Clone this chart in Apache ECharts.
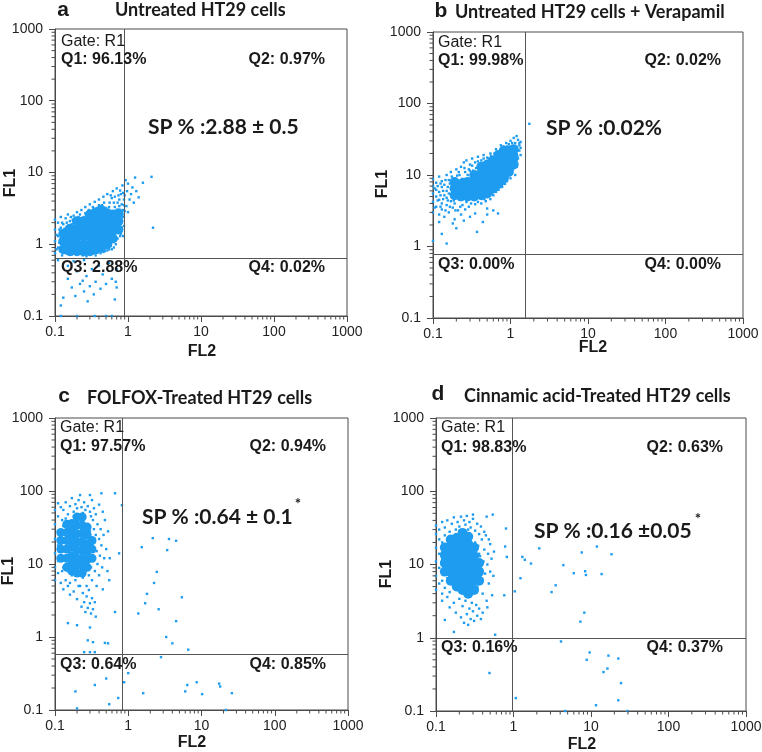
<!DOCTYPE html>
<html><head><meta charset="utf-8">
<script src="https://cdn.jsdelivr.net/npm/echarts@6.0.0/dist/echarts.min.js"></script>
<style>html,body{margin:0;padding:0;background:#fff}#c{width:762px;height:752px}</style>
</head><body><div id="c"></div>
<script>
// ---------- data ----------
const tickLabels = ['0.1','1','10','100','1000'];
const minorTicks = [0.2,0.3,0.4,0.5,0.6,0.7,0.8,0.9,2,3,4,5,6,7,8,9,20,30,40,50,60,70,80,90,200,300,400,500,600,700,800,900];
const letters = ['a','b','c','d'];
const titles = ['Untreated HT29 cells','Untreated HT29 cells + Verapamil','FOLFOX-Treated HT29 cells','Cinnamic acid-Treated HT29 cells'];
const gateLabel = ['Gate: R1','Gate: R1','Gate: R1','Gate: R1'];
const q1 = ['Q1: 96.13%','Q1: 99.98%','Q1: 97.57%','Q1: 98.83%'];
const q2 = ['Q2: 0.97%','Q2: 0.02%','Q2: 0.94%','Q2: 0.63%'];
const q3 = ['Q3: 2.88%','Q3: 0.00%','Q3: 0.64%','Q3: 0.16%'];
const q4 = ['Q4: 0.02%','Q4: 0.00%','Q4: 0.85%','Q4: 0.37%'];
const spText = ['SP % :2.88 \u00b1 0.5','SP % :0.02%','SP % :0.64 \u00b1 0.1','SP % :0.16 \u00b10.05'];
const spStar = ['','','*','*'];
const gateX = [0.9, 1.55, 0.84, 0.95];
const gateY = [0.64, 0.78, 0.58, 1.0];

const aCore = [[0.13,0.85],[0.13,1.1],[0.13,1.4],[0.16,0.8],[0.16,1.0],[0.16,1.3],[0.16,1.65],[0.2,0.8],[0.2,1.0],[0.2,1.3],[0.2,1.65],[0.2,2.1],[0.245,0.8],[0.245,1.0],[0.245,1.3],[0.245,1.65],[0.245,2.1],[0.3,0.8],[0.3,1.0],[0.3,1.3],[0.3,1.65],[0.3,2.1],[0.3,2.6],[0.36,0.85],[0.36,1.08],[0.36,1.4],[0.36,1.75],[0.36,2.2],[0.36,2.8],[0.43,0.9],[0.43,1.15],[0.43,1.45],[0.43,1.85],[0.43,2.35],[0.43,3.0],[0.52,1.0],[0.52,1.3],[0.52,1.65],[0.52,2.1],[0.52,2.7],[0.62,1.2],[0.62,1.55],[0.62,2.0],[0.62,2.6],[0.74,1.6],[0.74,2.1],[0.74,2.7]];
const aDots = [[0.10,0.75],[0.10,1.1],[0.10,1.6],[0.10,2.2],[0.11,0.9],[0.11,1.3],[0.11,2.0],[0.12,0.8],[0.12,1.2],[0.12,1.7],[0.12,2.4],[0.13,0.95],[0.13,1.9],[0.14,0.75],[0.14,2.3],[0.14,1.25],[0.15,0.85],[0.15,1.5],[0.15,2.6],[0.16,2.1],[0.17,0.72],[0.17,1.9],[0.18,1.15],[0.18,2.5],[0.18,0.9],[0.19,1.45],[0.19,2.0],[0.2,0.72],[0.2,2.8],
[0.105,0.85],[0.105,1.35],[0.115,1.05],[0.115,1.6],[0.125,0.7],[0.125,2.0],[0.135,1.2],[0.135,1.65],[0.145,0.95],[0.145,2.0],[0.155,1.15],[0.155,1.8],[0.165,0.9],[0.165,2.4],[0.175,1.3],[0.175,2.2],[0.185,0.75],[0.185,1.7],[0.195,2.3],[0.21,2.4],[0.23,2.3],[0.26,2.7],[0.29,3.0],[0.33,3.3],[0.4,3.5],[0.47,3.8],[0.55,3.3],[0.58,4.8],[0.64,3.8],[0.66,4.6],[0.7,2.6],[0.72,3.8],[0.76,4.2],[0.78,2.6],[0.8,5.0],[0.82,1.7],[0.84,2.6],[0.86,5.2],[0.88,3.5],[0.7,1.5],[0.78,1.3],[0.6,0.85],[0.52,0.82],[0.46,0.78],[0.38,0.76],[0.33,0.74],[0.27,0.73],[0.22,0.75],
[0.22,2.6],[0.23,3.0],[0.24,0.7],[0.25,2.4],[0.26,3.3],[0.27,0.68],[0.28,2.7],[0.3,3.6],[0.31,0.72],[0.33,2.9],[0.35,3.9],[0.36,0.7],[0.38,3.2],[0.4,4.2],[0.42,0.75],[0.44,3.5],[0.46,4.6],[0.48,0.8],[0.5,3.2],[0.52,5.0],[0.55,0.85],[0.56,3.8],[0.6,4.4],[0.62,5.5],[0.64,0.9],[0.66,3.3],[0.68,1.0],[0.7,6.0],[0.72,1.2],[0.74,4.8],[0.76,3.4],[0.78,5.6],[0.8,1.4],[0.82,3.6],[0.84,6.6],[0.86,2.4],[0.88,4.2],[0.58,0.95],[0.68,2.0],[0.8,2.0],[0.85,3.0],[0.9,4.8],[0.9,2.9],[0.88,1.8],[0.86,1.3],
[0.95,3.4],[0.97,5.5],[1.0,7.0],[1.05,4.2],[1.1,5.0],[1.15,6.2],[1.2,3.8],[1.3,5.5],[1.4,4.5],[0.93,7.8],[1.0,2.8],[2.1,8.7],[2.2,1.7],[1.6,7.2],[1.25,8.5],
[0.12,0.14],[0.13,0.18],[0.15,0.33],[0.17,0.25],[0.19,0.19],[0.2,0.42],[0.22,0.28],[0.24,0.31],[0.25,0.22],[0.27,0.36],[0.28,0.16],[0.3,0.26],[0.32,0.45],[0.34,0.2],[0.36,0.3],[0.4,0.5],[0.42,0.24],[0.45,0.38],[0.5,0.28],[0.55,0.55],[0.6,0.33],[0.66,0.17],[0.68,0.3],[0.7,0.45],[0.15,0.5],[0.11,0.6],[0.18,0.58],[0.25,0.6],[0.12,0.1],[0.2,0.1],[0.35,0.1],[0.5,0.1],[0.6,0.1],[0.7,0.25]];

const bCore = [[0.19,5.2],[0.19,6.5],[0.19,8],[0.23,5],[0.23,6],[0.23,7.5],[0.28,5],[0.28,6.3],[0.28,8],[0.34,5],[0.34,6.3],[0.34,8],[0.34,10],[0.42,5.2],[0.42,6.5],[0.42,8.2],[0.42,10.5],[0.42,13],[0.5,5.5],[0.5,7],[0.5,8.8],[0.5,11],[0.5,14],[0.6,6.5],[0.6,8.2],[0.6,10.5],[0.6,13],[0.6,16],[0.7,7.5],[0.7,9.5],[0.7,12],[0.7,15],[0.7,19],[0.82,9],[0.82,11.5],[0.82,14.5],[0.82,18],[0.82,22],[0.95,11],[0.95,14],[0.95,17.5],[0.95,22],[1.1,14],[1.1,18],[1.1,23]];
const bDots = [[0.1,3],[0.1,4.2],[0.1,5.5],[0.1,7],[0.1,8.8],[0.11,3.6],[0.11,5],[0.11,6.2],[0.11,7.8],[0.12,2.8],[0.12,4.5],[0.12,5.8],[0.12,9.5],[0.13,3.3],[0.13,4],[0.13,6.8],[0.13,8.2],[0.14,2.6],[0.14,5.2],[0.14,7.3],[0.15,3.8],[0.15,4.8],[0.15,6],[0.15,10],[0.16,3],[0.16,5.5],[0.16,8.5],[0.17,4.3],[0.17,6.5],[0.17,11],[0.18,3.5],[0.18,5],[0.18,7.5],[0.19,2.4],[0.19,4],[0.19,9],[0.2,5.8],[0.2,12],[0.21,3.2],[0.21,7],[0.22,4.5],[0.22,10],[0.23,2.8],[0.23,13],[0.24,6.2],[0.24,3.8],[0.25,8.8],[0.25,15],[0.26,3.3],[0.26,11],[0.27,4.2],[0.27,16],[0.29,3.6],[0.29,12],[0.3,14],[0.31,4],[0.32,17],[0.33,11.5],[0.35,3.9],[0.35,15],[0.38,4.2],[0.38,18],[0.4,13.5],[0.42,4],[0.45,17],[0.45,19],[0.48,4.3],[0.5,3.4],[0.52,17],[0.55,4.6],[0.55,20],[0.6,5.2],[0.62,20],[0.65,5.8],[0.65,23],[0.7,6.2],[0.72,21],[0.75,26],[0.78,6.8],[0.8,25],[0.85,7.5],[0.88,28],[0.9,8.2],[0.95,27],[1.0,9],[1.0,30],[1.05,11],[1.1,33],[1.15,10],[1.15,28],[1.2,13],[1.2,35],[1.25,17],[1.25,31],[1.3,22],[1.3,26],[1.35,19],[1.35,29],[1.05,25],[1.2,20],
[0.105,3.5],[0.105,6.5],[0.115,4.4],[0.115,7],[0.125,3.6],[0.125,5.2],[0.125,7.6],[0.135,4.6],[0.135,6],[0.145,3.2],[0.145,8.5],[0.155,4.4],[0.155,6.8],[0.165,3.6],[0.165,7.6],[0.175,5.2],[0.175,9.5],[0.185,4.4],[0.185,6.2],[0.195,3.2],[0.195,7.2],[0.205,4.8],[0.205,9.8],[0.215,5.5],[0.215,11],[0.225,3.6],[0.235,8.8],[0.245,5],[0.255,12.5],[0.265,6.8],[0.28,10],[0.3,11.5],[0.32,13.5],[0.36,12.5],[0.38,15.5],[0.42,16],[0.46,4.6],[0.5,17.5],[0.56,18.5],[0.58,5.5],[0.66,21],[0.68,6.5],[0.76,23],[0.8,7.6],[0.9,25],[0.92,9.5],[1.05,28],[1.08,12],[1.15,24],[1.25,22],[1.3,28],[1.2,16],[1.35,24],
[0.1,1.2],[0.15,1.1],[0.13,1.5],[0.12,2.2],[0.18,2.1],[0.25,2.3],[0.3,2.6],[0.37,1.6],[0.44,2.2],[0.5,2.8],[0.69,2.9],[0.6,3.2],[0.35,2.9],[0.2,1.8],[1.75,52]];

const cCore = [[0.12,12],[0.12,16],[0.12,21],[0.12,27],[0.145,9],[0.145,12],[0.145,16],[0.145,21],[0.145,27],[0.145,35],[0.17,8],[0.17,10],[0.17,13],[0.17,17],[0.17,22],[0.17,28],[0.17,36],[0.2,7.5],[0.2,9.5],[0.2,12],[0.2,15.5],[0.2,20],[0.2,26],[0.2,34],[0.2,44],[0.235,7.5],[0.235,9.5],[0.235,12],[0.235,15.5],[0.235,20],[0.235,26],[0.235,34],[0.235,44],[0.275,9],[0.275,11.5],[0.275,15],[0.275,19],[0.275,25],[0.275,32],[0.32,12],[0.32,16],[0.32,21]];
const cDots = [[0.1,6],[0.1,9],[0.1,14],[0.1,22],[0.1,35],[0.1,55],[0.11,7.5],[0.11,11],[0.11,18],[0.11,28],[0.11,45],[0.11,68],[0.12,5.5],[0.12,60],[0.125,8],[0.125,40],
[0.13,55],[0.14,70],[0.15,48],[0.16,62],[0.17,80],[0.18,52],[0.19,66],[0.2,58],[0.21,75],[0.22,88],[0.23,60],[0.24,50],[0.25,70],[0.26,55],[0.28,62],[0.3,52],[0.32,75],[0.34,58],[0.36,48],[0.4,65],[0.43,93],[0.3,88],
[0.33,40],[0.34,30],[0.34,12],[0.35,20],[0.35,8],[0.36,25],[0.37,15],[0.37,5],[0.38,35],[0.38,10],[0.4,22],[0.4,7],[0.41,13],[0.42,30],[0.43,18],[0.44,9],[0.45,4.5],[0.46,25],[0.47,12],[0.48,40],[0.5,16],[0.52,8],[0.53,28],[0.55,6],[0.56,12],[0.45,52],
[0.13,4.5],[0.15,5],[0.16,3.8],[0.18,4.2],[0.2,3.3],[0.21,5],[0.23,2.6],[0.24,4],[0.25,3],[0.26,2.2],[0.27,3.6],[0.28,2.5],[0.29,4.4],[0.3,2.9],[0.31,2.1],[0.32,3.4],[0.33,2.4],[0.35,3],[0.36,1.9],
[0.12,13],[0.12,25],[0.13,9],[0.13,17],[0.13,33],[0.14,6],[0.14,12],[0.14,22],[0.14,42],[0.15,8],[0.15,15],[0.15,30],[0.16,5.5],[0.16,10],[0.16,20],[0.16,38],[0.17,7],[0.17,13],[0.17,26],[0.18,45],[0.18,9],[0.18,17],[0.19,6],[0.19,33],[0.2,12],[0.2,24],[0.21,7.5],[0.21,40],[0.22,15],[0.22,5],[0.23,9.5],[0.23,30],[0.24,19],[0.24,6.5],[0.25,12],[0.25,42],[0.26,8],[0.26,25],[0.27,15],[0.27,5],[0.28,10],[0.28,35],[0.29,20],[0.29,7],[0.3,13],[0.3,28],[0.31,9],[0.31,45],[0.32,18],[0.32,6],
[0.15,1.55],[0.2,1.45],[0.3,1.35],[0.33,0.85],[0.28,0.9],[0.48,0.83],[0.53,0.82],[0.66,2.2],[0.25,0.62],[0.3,0.62],[0.35,0.62],[0.66,93],[0.82,64],[0.75,14],
[1.53,17],[2.16,22.6],[3.6,22],[4.5,20.8],[3.4,15.5],[2.45,7.8],[2.25,5.5],[1.8,3.9],[1.37,2.1],[1.7,2.9],[2.6,2.4],[5.4,3.5],[4.5,1.65],[3.3,1.0],[4.0,0.82],[6.6,0.67],[2.8,0.53],
[0.19,0.18],[0.2,0.105],[0.35,0.22],[0.5,0.27],[0.55,0.12],[0.73,0.146],[0.88,0.24],[1.0,0.32],[1.6,0.17],[6.0,0.18],[6.4,0.22],[8.6,0.24],[10.2,0.165],[17.4,0.23],[18,0.21],[26,0.17],[21.5,0.1]];

const dCore = [[0.13,8],[0.13,10.5],[0.13,13.5],[0.13,17],[0.155,6],[0.155,7.8],[0.155,10],[0.155,13],[0.155,17],[0.155,22],[0.185,5],[0.185,6.5],[0.185,8.5],[0.185,11],[0.185,14],[0.185,18],[0.185,23],[0.22,4.5],[0.22,6],[0.22,7.8],[0.22,10],[0.22,13],[0.22,17],[0.22,22],[0.22,27],[0.26,4],[0.26,5.3],[0.26,7],[0.26,9],[0.26,11.5],[0.26,15],[0.26,19],[0.26,24],[0.31,4.5],[0.31,6],[0.31,7.8],[0.31,10],[0.31,13],[0.31,17],[0.36,6],[0.36,8],[0.36,10.5]];
const dDots = [[0.1,4.5],[0.1,7],[0.1,11],[0.1,17],[0.1,26],[0.1,34],[0.11,5.5],[0.11,9],[0.11,14],[0.11,22],[0.11,30],[0.12,4],[0.12,38],
[0.13,32],[0.14,40],[0.15,28],[0.16,36],[0.17,44],[0.18,30],[0.19,38],[0.2,33],[0.21,45],[0.22,28],[0.23,40],[0.24,35],[0.25,46],[0.26,30],[0.27,38],[0.28,32],[0.3,42],[0.32,29],[0.34,36],[0.36,26],[0.38,33],[0.42,28],[0.45,45],[0.48,22],[0.3,48],
[0.35,18],[0.36,9],[0.37,13],[0.38,6],[0.39,22],[0.4,4],[0.41,11],[0.42,16],[0.43,7.5],[0.44,25],[0.45,3.2],[0.46,10],[0.47,14],[0.48,5.5],[0.5,19],[0.5,8],[0.52,12],[0.53,3.8],[0.55,7],[0.56,15],[0.46,2.6],
[0.12,3.2],[0.14,3.6],[0.15,2.6],[0.17,3],[0.18,2.2],[0.2,3.4],[0.21,1.9],[0.22,2.7],[0.23,1.6],[0.24,3.2],[0.25,2.1],[0.26,1.5],[0.27,2.5],[0.28,1.8],[0.29,3],[0.3,2.3],[0.31,1.7],[0.33,2.8],[0.34,2],[0.36,2.5],[0.38,1.8],[0.4,2.2],
[0.12,6],[0.12,12],[0.12,20],[0.13,4.8],[0.13,25],[0.14,6.5],[0.14,19],[0.15,4.2],[0.15,23],[0.16,5.5],[0.16,17],[0.17,21],[0.18,4.5],[0.18,26],[0.19,15],[0.2,20],[0.21,4.8],[0.22,24],[0.24,4.3],[0.25,21],[0.27,17],[0.29,24],[0.3,15],[0.32,20],[0.33,11],[0.34,5],[0.35,8],[0.36,14],
[0.17,1.2],[0.13,1.75],[0.78,17.6],[0.82,12.7],[0.76,3.8],[0.58,1.1],[0.54,48],[0.8,31],
[1.04,4.3],[1.3,12.7],[1.4,11.6],[1.23,6.5],[1.68,10.3],[2.15,16.6],[3.1,4.2],[3.5,5.2],[4.4,9.8],[6.0,7.6],[7.6,14.6],[8.4,8.1],[8.6,7.2],[11.9,17.6],[13.7,7.4],[18.4,13.8],[7.3,1.66],[8.2,2.2],
[0.49,0.33],[1.07,0.15],[4.1,0.89],[4.65,0.1],[8.8,0.5],[9.6,0.63],[14.5,0.34],[16.3,0.38],[16.8,0.57],[22.5,0.52],[22.5,0.14],[24.4,0.24],[29.6,0.1],[11.6,0.12]];

// ---------- layout / style ----------
const cores = [aCore, bCore, cCore, dCore];
const dots = [aDots, bDots, cDots, dDots];
const coreSize = [10, 10, 9, 10];
const BLUE = '#1e9cf0';
const AX = '#4a4a4a';
const TXT = '#1a1a1a';
const gridRects = [
  {left:55, top:29, width:292, height:287},
  {left:433, top:32, width:310, height:286},
  {left:55, top:418, width:293, height:292},
  {left:436, top:418, width:310, height:293}
];
const txtPos = [
  {letter:[63,10], title:[115,10], fl1:[11,183], fl2:[202,352], gate:[61,42], q1:[61,60], q2:[325,60], q3:[61,268], q4:[325,268], sp:[148,127], star:[0,0]},
  {letter:[441,11], title:[455,12], fl1:[383,184], fl2:[593,348], gate:[438,43], q1:[438,61], q2:[721,61], q3:[438,265], q4:[721,265], sp:[546,128], star:[0,0]},
  {letter:[64,396], title:[87,398], fl1:[9,571], fl2:[192,743], gate:[60,428], q1:[60,447], q2:[326,447], q3:[60,665], q4:[326,665], sp:[142,517], star:[298,504]},
  {letter:[438,394], title:[464,396], fl1:[387,574], fl2:[582,745], gate:[441,428], q1:[441,448], q2:[723,448], q3:[441,648], q4:[723,648], sp:[534,531], star:[698,519]}
];

const labelFmt = v => tickLabels[Math.round(Math.log10(v)) + 1];
const grid = [], xAxis = [], yAxis = [], series = [], graphic = [];

function txt(pos, text, font, align, extra) {
  return Object.assign({type:'text', x:pos[0], y:pos[1], silent:true, z:100,
    style:{text:text, font:font, fill:TXT, textAlign:align||'left', textVerticalAlign:'middle', align:align||'left', verticalAlign:'middle'}}, extra||{});
}

for (let i = 0; i < 4; i++) {
  grid.push(Object.assign({show:true, borderColor:AX, borderWidth:1, backgroundColor:'#fff', containLabel:false, outerBoundsMode:'none'}, gridRects[i]));
  const common = {
    type:'log', logBase:10, min:0.1, max:1000, gridIndex:i,
    axisLine:{show:true, lineStyle:{color:AX, width:1}},
    axisTick:{show:true, length:6, lineStyle:{color:AX}},
    splitLine:{show:false}, minorTick:{show:false}, minorSplitLine:{show:false}
  };
  xAxis.push(Object.assign({}, common, {
    axisLabel:{margin:9, fontSize:14, fontFamily:'Liberation Sans', color:'#222', formatter:labelFmt, showMinLabel:true, showMaxLabel:true, overflow:'none', width:60}
  }));
  yAxis.push(Object.assign({}, common, {
    axisLabel:{margin:12, fontSize:14, fontFamily:'Liberation Sans', color:'#222', formatter:labelFmt, showMinLabel:true, showMaxLabel:true}
  }));
  series.push({type:'scatter', xAxisIndex:i, yAxisIndex:i, data:cores[i], symbol:'circle', symbolSize:coreSize[i], itemStyle:{color:BLUE, opacity:1}, silent:true, z:3});
  series.push({type:'scatter', xAxisIndex:i, yAxisIndex:i, data:dots[i], symbol:'rect', symbolSize:2.4, itemStyle:{color:BLUE, opacity:1}, silent:true, z:3,
    markLine:{silent:true, symbol:'none', animation:false, label:{show:false}, lineStyle:{color:'#555', width:1, type:'solid'},
      data:[{xAxis:gateX[i]}, {yAxis:gateY[i]}]}});
  series.push({type:'custom', xAxisIndex:i, yAxisIndex:i, clip:false, silent:true, z:4,
    data:minorTicks.map(v => [v, 0.1]),
    renderItem:(p, api) => { const c = api.coord([api.value(0), api.value(1)]);
      return {type:'line', shape:{x1:c[0], y1:c[1], x2:c[0], y2:c[1] + 3.5}, style:{stroke:AX, lineWidth:1}}; }});
  series.push({type:'custom', xAxisIndex:i, yAxisIndex:i, clip:false, silent:true, z:4,
    data:minorTicks.map(v => [0.1, v]),
    renderItem:(p, api) => { const c = api.coord([api.value(0), api.value(1)]);
      return {type:'line', shape:{x1:c[0] - 3.5, y1:c[1], x2:c[0], y2:c[1]}, style:{stroke:AX, lineWidth:1}}; }});

  const P = txtPos[i];
  graphic.push(txt(P.letter, letters[i], 'bold 21px "Liberation Sans"', 'center'));
  graphic.push(txt(P.title, titles[i], 'bold 18px Lato', 'left'));
  graphic.push(txt(P.fl1, 'FL1', 'bold 16px "Liberation Sans"', 'center', {rotation:Math.PI/2}));
  graphic.push(txt(P.fl2, 'FL2', 'bold 16px "Liberation Sans"', 'center'));
  graphic.push(txt(P.gate, gateLabel[i], '16px "Liberation Sans"', 'left'));
  graphic.push(txt(P.q1, q1[i], 'bold 16px "Liberation Sans"', 'left'));
  graphic.push(txt(P.q2, q2[i], 'bold 16px "Liberation Sans"', 'right'));
  graphic.push(txt(P.q3, q3[i], 'bold 16px "Liberation Sans"', 'left'));
  graphic.push(txt(P.q4, q4[i], 'bold 16px "Liberation Sans"', 'right'));
  graphic.push(txt(P.sp, spText[i], 'bold 21px Lato', 'left'));
  if (spStar[i]) graphic.push(txt(P.star, spStar[i], 'bold 15px Lato', 'center'));
}

const chart = echarts.init(document.getElementById('c'), null, {renderer:'canvas'});
chart.setOption({animation:false, backgroundColor:'#fff', grid, xAxis, yAxis, series, graphic});
</script></body></html>
